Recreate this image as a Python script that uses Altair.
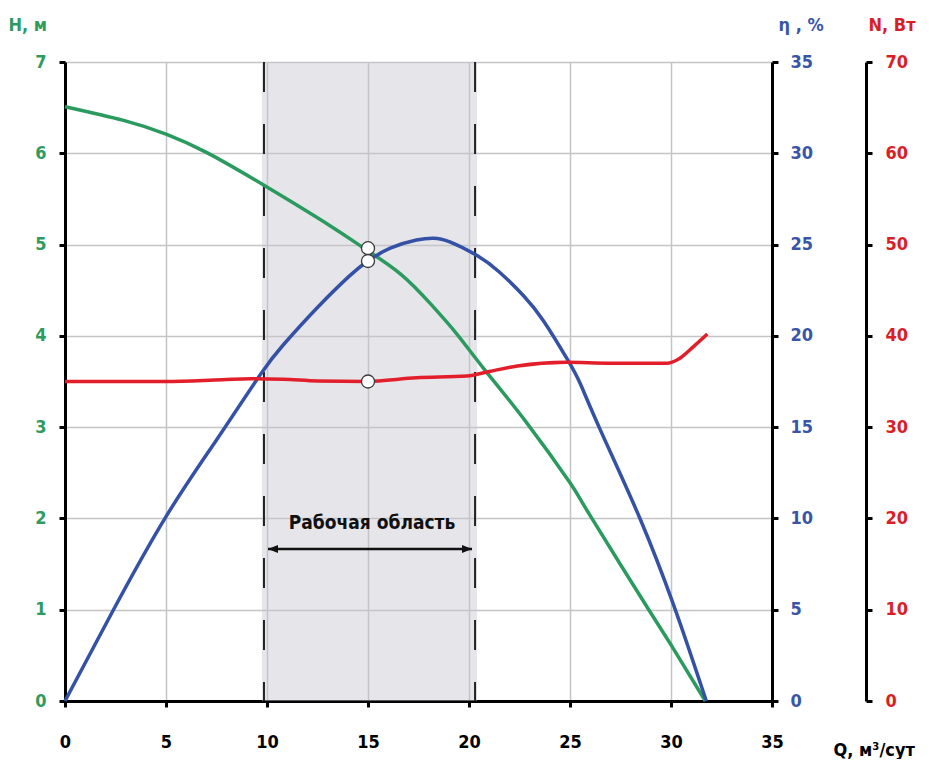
import altair as alt
import pandas as pd

# ---- data ----
Q_H = [0, 2.9, 5.0, 7.0, 9.85, 13.1, 14.8, 16.6, 18.1, 19.4, 20.7, 22.85, 25.0, 26.0, 28.9, 30.1, 31.7]
H = [6.51, 6.36, 6.21, 6.01, 5.65, 5.21, 4.96, 4.68, 4.35, 4.02, 3.65, 3.05, 2.39, 2.03, 1.0, 0.58, 0.0]

Q_ETA = [0, 2.4, 5.0, 7.5, 9.65, 10.8, 12.45, 14.1, 15.0, 16.1, 17.4, 18.25, 19.05, 20.4, 21.5,
         22.7, 23.7, 24.85, 25.5, 26.5, 28.5, 30.1, 30.9, 31.75]
ETA = [0, 5.0, 10.1, 14.3, 17.85, 19.5, 21.5, 23.3, 24.1, 24.8, 25.25, 25.35, 25.15, 24.4, 23.5,
       22.2, 20.8, 18.75, 17.4, 14.85, 9.9, 5.35, 2.8, 0]

Q_N = [0, 5.0, 7.8, 9.2, 10.8, 12.5, 14.9, 17.4, 19.9, 21.0, 22.4, 24.8, 27.0, 29.8, 30.4, 31.1, 31.8]
N = [35.0, 35.0, 35.2, 35.3, 35.25, 35.05, 35.0, 35.4, 35.6, 36.1, 36.7, 37.1, 37.0, 37.0, 37.5, 38.8, 40.2]

MARK_Q = [15.0]
MARK_H = [4.96]
MARK_ETA = [24.1]
MARK_N = [35.0]

WORK_RANGE = [9.75, 20.4]        # shaded working area
WORK_LINES = [9.85, 20.3]        # dashed borders
ARROW_Q = [10.05, 20.15]
ARROW_H = 1.665
LABEL_Q = 15.2
LABEL_H = 1.95
LABEL_TEXT = "Рабочая область"

X_TICKS = [0, 5, 10, 15, 20, 25, 30, 35]
H_TICKS = [0, 1, 2, 3, 4, 5, 6, 7]
ETA_TICKS = [0, 5, 10, 15, 20, 25, 30, 35]
N_TICKS = [0, 10, 20, 30, 40, 50, 60, 70]

# ---- styling ----
FONT = "Liberation Sans Narrow, Arial Narrow, DejaVu Sans Condensed, sans-serif"
GREEN = "#2b9a5f"
BLUE = "#3451a5"
RED = "#e31e2b"
LBL_GREEN = "#2e9b60"
LBL_BLUE = "#3a55a8"
LBL_RED = "#d81e27"
GRID = "#c4c4c4"

W, HGT = 707, 639

common_axis = dict(
    labelFont=FONT, labelFontSize=18, labelFontWeight="bold", labelFlush=False,
    domainColor="black", domainWidth=3, tickColor="black", tickWidth=3, tickSize=6,
    titleFont=FONT, titleFontSize=18, titleFontWeight="bold", titleAngle=0,
    titleAlign="left", titleBaseline="alphabetic",
)

x_scale = alt.Scale(domain=[0, 35], nice=False, zero=False)
x_axis = alt.Axis(values=X_TICKS, title="Q, м³/сут", titleX=768, titleY=54,
                  labelColor="black", titleColor="black", labelPadding=26,
                  grid=True, gridColor=GRID, gridWidth=1.5, **common_axis)


def xenc(field):
    return alt.X(f"{field}:Q", scale=x_scale, axis=x_axis)


h_scale = alt.Scale(domain=[0, 7], nice=False, zero=False)
eta_scale = alt.Scale(domain=[0, 35], nice=False, zero=False)
n_scale = alt.Scale(domain=[0, 70], nice=False, zero=False)

h_axis = alt.Axis(orient="left", values=H_TICKS, title="H, м", titleX=-57, titleY=-32,
                  labelColor=LBL_GREEN, titleColor=LBL_GREEN, labelPadding=13,
                  grid=True, gridColor=GRID, gridWidth=1.5, **common_axis)
eta_axis = alt.Axis(orient="right", values=ETA_TICKS, title="η , %", titleX=6, titleY=-32,
                    labelColor=LBL_BLUE, titleColor=LBL_BLUE, labelPadding=12,
                    grid=False, **common_axis)
n_axis = alt.Axis(orient="right", offset=94, values=N_TICKS, title="N, Вт", titleX=2, titleY=-32,
                  labelColor=LBL_RED, titleColor=LBL_RED, labelPadding=13,
                  grid=False, **common_axis)

df_h = pd.DataFrame({"Q": Q_H, "v": H})
df_eta = pd.DataFrame({"Q": Q_ETA, "v": ETA})
df_n = pd.DataFrame({"Q": Q_N, "v": N})

# shaded working area
rect = alt.Chart(pd.DataFrame({"lo": [WORK_RANGE[0]], "hi": [WORK_RANGE[1]]})).mark_rect(
    color="#c8c8d0", opacity=0.45
).encode(x=xenc("lo"), x2="hi")

dashes = alt.Chart(pd.DataFrame({"Q": WORK_LINES})).mark_rule(
    color="#222222", strokeWidth=2, strokeDash=[30, 32]
).encode(x=xenc("Q"))

# curves
line_h = alt.Chart(df_h).mark_line(color=GREEN, strokeWidth=3.5, interpolate="natural").encode(
    x=xenc("Q"), y=alt.Y("v:Q", scale=h_scale, axis=h_axis))
line_eta = alt.Chart(df_eta).mark_line(color=BLUE, strokeWidth=3.5, interpolate="natural").encode(
    x=xenc("Q"), y=alt.Y("v:Q", scale=eta_scale, axis=eta_axis))
line_n = alt.Chart(df_n).mark_line(color=RED, strokeWidth=3.5, interpolate="monotone").encode(
    x=xenc("Q"), y=alt.Y("v:Q", scale=n_scale, axis=n_axis))

# working-area arrow and label
arrow_df = pd.DataFrame({"a": [ARROW_Q[0]], "b": [ARROW_Q[1]], "y": [ARROW_H]})
arrow = alt.Chart(arrow_df).mark_rule(color="#111111", strokeWidth=2.5).encode(
    x=xenc("a"), x2="b", y=alt.Y("y:Q", scale=h_scale, axis=None))

PATH_L = "M0,0L2,-0.8L2,0.8Z"
PATH_R = "M0,0L-2,-0.8L-2,0.8Z"
heads_df = pd.DataFrame({"Q": ARROW_Q, "y": [ARROW_H, ARROW_H], "side": ["l", "r"]})
heads = alt.Chart(heads_df).mark_point(filled=True, color="#111111", opacity=1, size=100).encode(
    x=xenc("Q"), y=alt.Y("y:Q", scale=h_scale, axis=None),
    shape=alt.Shape("side:N", scale=alt.Scale(domain=["l", "r"], range=[PATH_L, PATH_R]), legend=None))

label = alt.Chart(pd.DataFrame({"Q": [LABEL_Q], "y": [LABEL_H], "t": [LABEL_TEXT]})).mark_text(
    font=FONT, fontSize=19, fontWeight="bold", color="#111111", baseline="middle", align="center"
).encode(x=xenc("Q"), y=alt.Y("y:Q", scale=h_scale, axis=None), text="t:N")

# markers


def marker(vals, scale):
    return alt.Chart(pd.DataFrame({"Q": MARK_Q, "v": vals})).mark_circle(
        color="white", opacity=1, stroke="#3a3a3a", strokeWidth=1.3, size=170
    ).encode(x=xenc("Q"), y=alt.Y("v:Q", scale=scale, axis=None))


chart = alt.layer(
    rect, dashes, label, arrow, heads,
    line_h, line_eta, line_n,
    marker(MARK_H, h_scale), marker(MARK_ETA, eta_scale), marker(MARK_N, n_scale),
).resolve_scale(y="independent").properties(
    width=W, height=HGT,
    autosize=alt.AutoSizeParams(type="none"),
    padding={"left": 57, "top": 54, "right": 153, "bottom": 58},
).configure_view(stroke=None)

chart.save("out.html", embed_options={"renderer": "svg", "actions": False})
